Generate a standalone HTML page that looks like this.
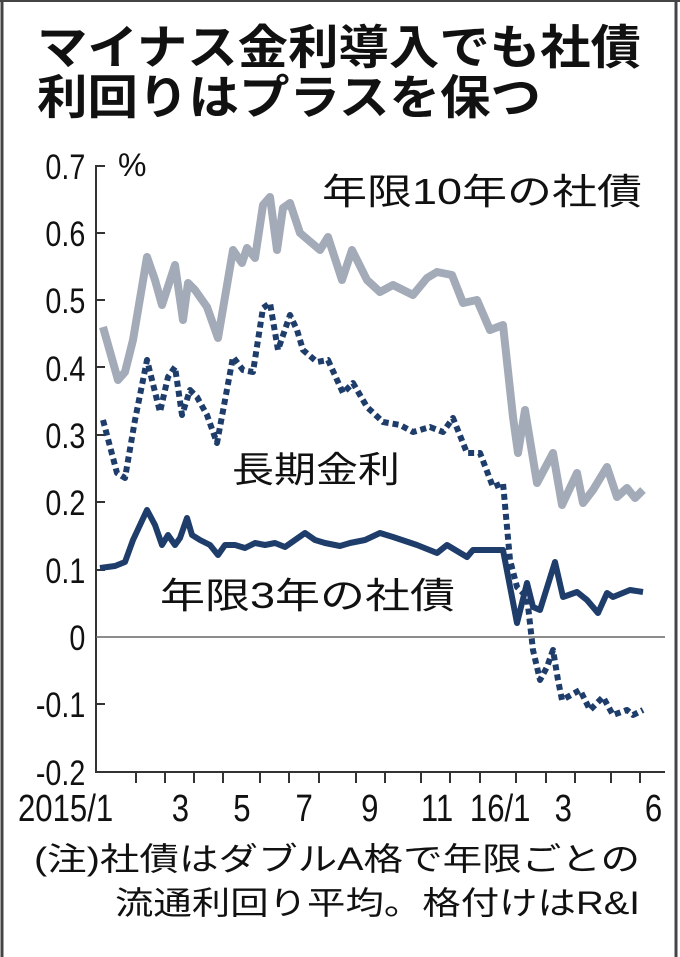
<!DOCTYPE html>
<html><head><meta charset="utf-8"><style>
html,body{margin:0;padding:0;background:#fff;}
svg{display:block;}
text{font-family:"Liberation Sans","Noto Sans CJK JP",sans-serif;fill:#111;}
</style></head><body>
<svg width="680" height="957" viewBox="0 0 680 957" xmlns="http://www.w3.org/2000/svg">
<rect x="0" y="0" width="680" height="957" fill="#fff"/>
<line x1="2" y1="0" x2="2" y2="957" stroke="#444" stroke-width="3"/>
<line x1="676" y1="0" x2="676" y2="957" stroke="#444" stroke-width="3"/>
<line x1="0" y1="1" x2="680" y2="1" stroke="#444" stroke-width="2"/>
<g font-weight="bold" font-size="47">
<text x="37" y="64" textLength="604" lengthAdjust="spacingAndGlyphs">マイナス金利導入でも社債</text>
<text x="37" y="114" textLength="504" lengthAdjust="spacingAndGlyphs">利回りはプラスを保つ</text>
</g>
<g font-size="35" text-anchor="end" transform="scale(0.82,1)">
<text x="104" y="179">0.7</text>
<text x="104" y="246">0.6</text>
<text x="104" y="313">0.5</text>
<text x="104" y="381">0.4</text>
<text x="104" y="448">0.3</text>
<text x="104" y="515">0.2</text>
<text x="104" y="583">0.1</text>
<text x="104" y="650">0</text>
<text x="104" y="717">-0.1</text>
<text x="104" y="785">-0.2</text>
</g>
<text x="118" y="176" font-size="32">%</text>
<g stroke="#333" stroke-width="2" fill="none">
<polyline points="105,166 96,166 96,772 665,772"/>
<line x1="96" y1="233" x2="105" y2="233"/>
<line x1="96" y1="300" x2="105" y2="300"/>
<line x1="96" y1="367" x2="105" y2="367"/>
<line x1="96" y1="435" x2="105" y2="435"/>
<line x1="96" y1="502" x2="105" y2="502"/>
<line x1="96" y1="570" x2="105" y2="570"/>
<line x1="96" y1="704" x2="105" y2="704"/>
</g>
<line x1="96" y1="637" x2="665" y2="637" stroke="#666" stroke-width="1.5"/>
<g stroke="#333" stroke-width="2">
<line x1="136" y1="772" x2="136" y2="783"/><line x1="165" y1="772" x2="165" y2="783"/>
<line x1="194" y1="772" x2="194" y2="783"/><line x1="223" y1="772" x2="223" y2="783"/>
<line x1="260" y1="772" x2="260" y2="783"/><line x1="289" y1="772" x2="289" y2="783"/>
<line x1="319" y1="772" x2="319" y2="783"/><line x1="356" y1="772" x2="356" y2="783"/>
<line x1="385" y1="772" x2="385" y2="783"/><line x1="421" y1="772" x2="421" y2="783"/>
<line x1="450" y1="772" x2="450" y2="783"/><line x1="480" y1="772" x2="480" y2="783"/>
<line x1="516" y1="772" x2="516" y2="783"/><line x1="546" y1="772" x2="546" y2="783"/>
<line x1="575" y1="772" x2="575" y2="783"/><line x1="611" y1="772" x2="611" y2="783"/>
<line x1="640" y1="772" x2="640" y2="783"/>
</g>
<g font-size="38" text-anchor="middle" transform="scale(0.82,1)">
<text x="80" y="821">2015/1</text>
<text x="220" y="821">3</text>
<text x="295" y="821">5</text>
<text x="371" y="821">7</text>
<text x="451" y="821">9</text>
<text x="533" y="821">11</text>
<text x="610" y="821">16/1</text>
<text x="687" y="821">3</text>
<text x="797" y="821">6</text>
</g>
<polyline fill="none" stroke="#a3aab8" stroke-width="8" stroke-linejoin="round" points="103,327 118,380 125,372 133,340 147,257 155,280 162,305 175,265 183,320 188,283 195,290 207,307 218,338 233,250 242,263 247,248 255,258 263,205 270,197 277,250 283,208 290,203 300,233 320,250 328,237 342,280 352,250 367,280 380,292 393,285 413,295 427,278 437,272 452,275 463,303 477,300 490,330 503,325 513,417 518,453 525,410 537,483 553,453 562,505 577,473 583,503 593,490 607,467 617,497 627,488 635,498 643,490"/>
<polyline fill="none" stroke="#1e3d6b" stroke-width="6" stroke-dasharray="6,4" stroke-linejoin="round" points="103,420 117,473 125,478 135,420 147,360 160,412 168,377 175,367 182,415 190,390 197,397 207,415 217,443 233,357 243,370 253,372 263,308 270,303 278,350 290,315 297,330 303,350 317,362 328,360 343,393 353,383 367,407 383,422 400,425 413,432 430,427 443,432 453,418 467,453 480,453 493,487 503,483 510,560 517,587 527,597 533,650 540,680 547,667 553,650 558,680 562,700 580,690 590,710 603,697 613,715 627,710 633,715 643,710"/>
<polyline fill="none" stroke="#1e3d6b" stroke-width="6" stroke-linejoin="round" points="100,568 115,566 125,562 133,540 147,510 155,525 162,545 168,535 175,545 180,538 187,518 192,535 200,540 210,545 218,555 225,545 235,545 245,548 255,543 265,545 275,543 285,547 295,540 305,533 315,540 325,543 340,546 350,543 365,540 380,533 393,537 417,545 437,553 447,545 467,557 473,550 503,550 517,623 527,583 533,607 540,610 555,562 563,597 577,592 587,600 598,613 607,593 613,597 630,590 643,592"/>
<g font-size="36">
<text x="322" y="204" textLength="320" lengthAdjust="spacingAndGlyphs">年限10年の社債</text>
<text x="232" y="482" textLength="168" lengthAdjust="spacingAndGlyphs">長期金利</text>
<text x="160" y="608" textLength="295" lengthAdjust="spacingAndGlyphs">年限3年の社債</text>
</g>
<g font-size="32">
<text x="34" y="870" textLength="606" lengthAdjust="spacingAndGlyphs">(注)社債はダブルA格で年限ごとの</text>
<text x="115" y="914" textLength="525" lengthAdjust="spacingAndGlyphs">流通利回り平均。格付けはR&amp;I</text>
</g>
</svg>
</body></html>
